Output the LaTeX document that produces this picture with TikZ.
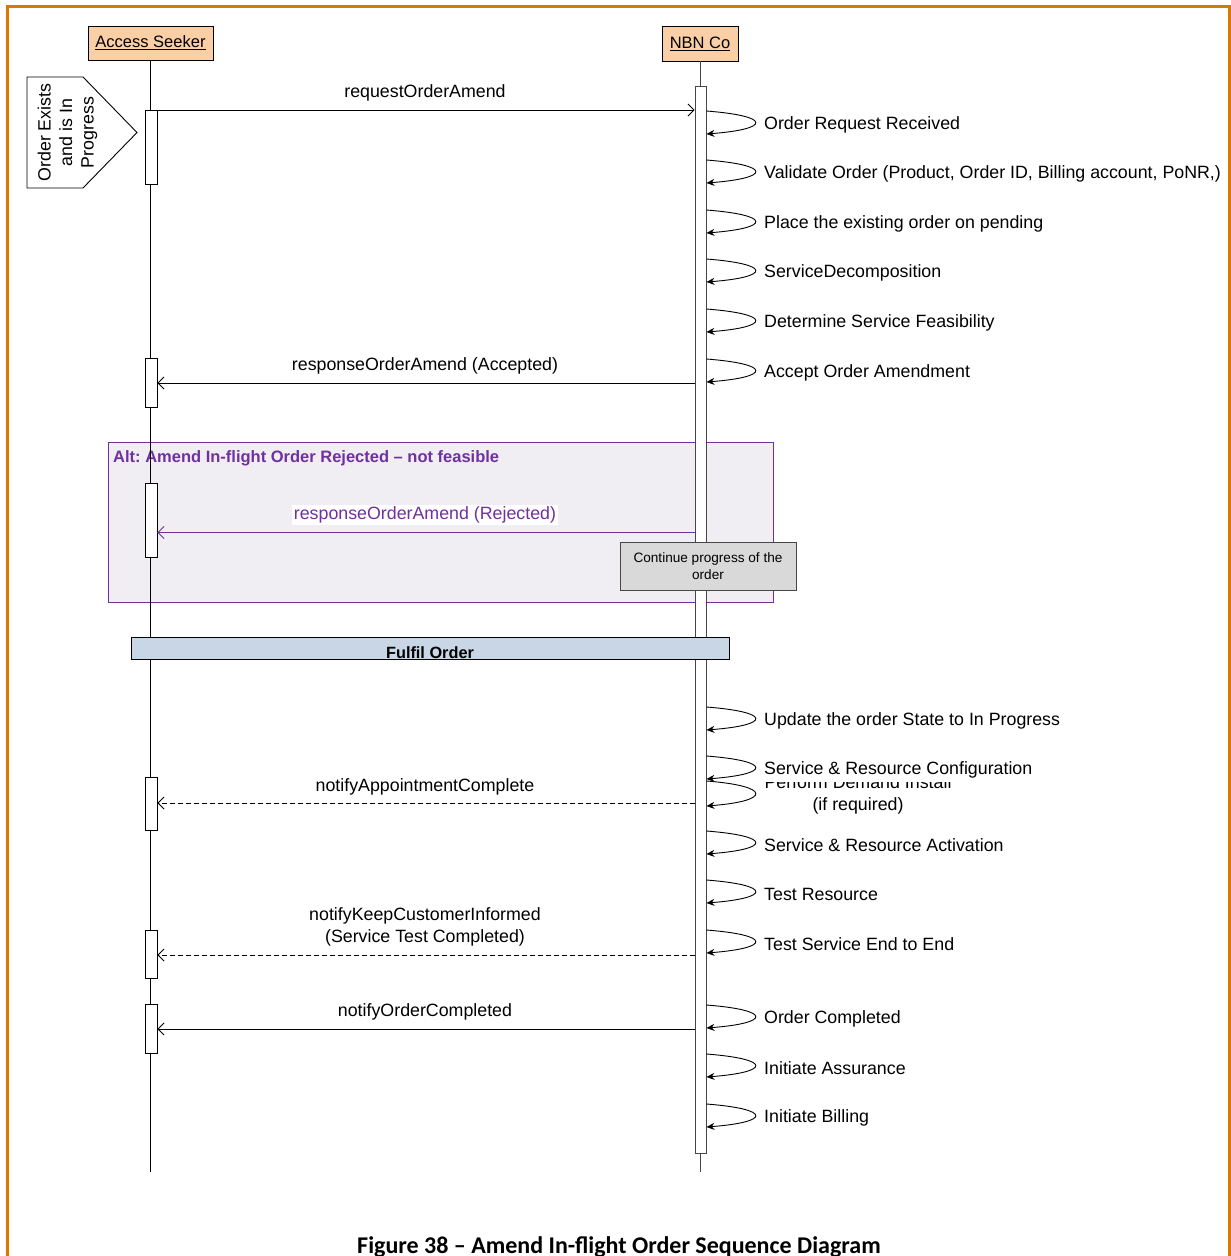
\documentclass[tikz,border=0pt]{standalone}
\usepackage{fontspec}
\setmainfont{Liberation Sans}
\newfontfamily\titlefont{Carlito}
\usetikzlibrary{arrows.meta}
\definecolor{frameorange}{RGB}{218,120,0}
\definecolor{partfill}{RGB}{251,207,166}
\definecolor{altfill}{RGB}{240,237,243}
\definecolor{altpurple}{RGB}{112,48,160}
\definecolor{notefill}{RGB}{217,217,217}
\definecolor{barfill}{RGB}{201,214,229}
\definecolor{lifegray}{RGB}{70,70,70}
\tikzset{
  lbl/.style={font=\fontsize{17.8}{21.5}\selectfont, inner sep=0pt},
  part/.style={draw=black, fill=partfill, line width=0.9pt, font=\fontsize{16.5}{19}\selectfont, inner sep=0pt},
  life/.style={line width=0.9pt},
  actbox/.style={draw=black, fill=white, line width=0.9pt, minimum width=12pt, inner sep=0pt, anchor=north},
  msg/.style={line width=0.9pt, -{Straight Barb[length=6pt,width=12pt,line width=0.9pt]}},
  dmsg/.style={msg, dash pattern=on 5pt off 3pt},
  selfarr/.style={line width=0.9pt, -{Stealth[length=8pt,width=7pt]}},
}
\frenchspacing
\begin{document}
\frenchspacing
\begin{tikzpicture}[x=1pt,y=-1pt]
\useasboundingbox (0,0) rectangle (1231,1256);
% page frame
\draw[frameorange, line width=3pt] (7,1256) -- (7,6) -- (1229.5,6) -- (1229.5,1256);

% alt frame (background)
\node[draw=altpurple, fill=altfill, line width=0.9pt, anchor=north west, minimum width=665pt, minimum height=160pt, inner sep=0pt] (alt) at (108,442) {};
\node[anchor=west, inner sep=0pt, text=altpurple, font=\bfseries\fontsize{16.5}{19}\selectfont] (alttitle) at (113,458.5) {Alt: Amend In-flight Order Rejected – not feasible};

% participants
\node[part, minimum width=125pt, minimum height=34pt] (as) at (150.5,43) {\underline{Access Seeker}};
\node[part, minimum width=76pt, minimum height=35pt] (nbn) at (700,43.5) {\underline{NBN Co}};

% lifelines
\coordinate (asend) at (as.south |- 0,1172);
\coordinate (nbnend) at (nbn.south |- 0,1172);
\draw[life] (as.south) -- (asend);
\draw[life, lifegray] (nbn.south) -- (nbnend);

% activations
\node[actbox, draw=lifegray, minimum width=11pt, minimum height=1067pt] (nbnact) at (700.5,86) {};
\node[actbox, minimum height=74pt] (a1) at (151,110) {};
\node[actbox, minimum height=49pt] (a2) at (151,358) {};
\node[actbox, minimum height=74pt] (a3) at (151,483) {};
\node[actbox, minimum height=53pt] (a4) at (151,777) {};
\node[actbox, minimum height=48pt] (a5) at (151,930) {};
\node[actbox, minimum height=49pt] (a6) at (151,1004) {};

% pentagon note
\draw[line width=0.9pt, fill=white] (27,77) -- (83,77) -- (137,132.5) -- (83,188) -- (27,188) -- cycle;
\node[lbl, rotate=90, align=center] (pre) at (67.5,132.5) {Order Exists\\and is In\\Progress};

% self messages
\foreach \y/\t in {111/Order Request Received,
                   160/{Validate Order (Product, Order ID, Billing account, PoNR,)},
                   210/Place the existing order on pending,
                   259/ServiceDecomposition,
                   309/Determine Service Feasibility,
                   359/Accept Order Amendment,
                   707/Update the order State to In Progress,
                   831/Service \& Resource Activation,
                   880/Test Resource,
                   930/Test Service End to End,
                   1005/Order Completed,
                   1054/Initiate Assurance,
                   1104/Initiate Billing}{
  \draw[selfarr] (nbnact.east |- 0,\y) .. controls +(65,5) and +(65,-5) .. (nbnact.east |- 0,\y+23);
  \node[lbl, anchor=west] (self\y) at (764,\y+14) {\t};
}
% Perform Demand Install (partly hidden)
\draw[selfarr] (nbnact.east |- 0,781) .. controls +(65,5) and +(65,-5) .. (nbnact.east |- 0,806);
\node[lbl, anchor=base] (perf1) at (858,788.5) {Perform Demand Install};
\node[lbl, anchor=base] (perf2) at (858,810) {(if required)};
% Service & Resource Configuration (white background over the line below)
\draw[selfarr] (nbnact.east |- 0,756) .. controls +(65,5) and +(65,-5) .. (nbnact.east |- 0,779);
\node[lbl, anchor=base west, fill=white, text depth=7pt] (self756) at (764,774.5) {Service \& Resource Configuration};

% note
\node[draw=lifegray, fill=notefill, line width=0.9pt, minimum width=176pt, minimum height=48pt, inner sep=0pt, align=center, font=\fontsize{13.6}{17}\selectfont] (cont) at (708,566) {Continue progress of the\\order};

% Fulfil bar
\node[draw=black, fill=barfill, line width=0.9pt, minimum width=598pt, minimum height=22pt, inner sep=0pt, font=\bfseries\fontsize{16.3}{19}\selectfont, text height=20pt, text depth=0pt] (fulfil) at (430,648) {Fulfil Order};

% messages
\draw[msg] (a1.north east) -- (nbnact.west |- a1.north east);
\node[lbl] (l1) at (425,93) {requestOrderAmend};

\draw[msg] (nbnact.west |- 0,383) -- (a2.east |- 0,383);
\node[lbl] (l2) at (425,366) {responseOrderAmend (Accepted)};

\draw[msg, altpurple] (nbnact.west |- 0,532.5) -- (a3.east |- 0,532.5);
\node[lbl, text=altpurple, fill=white, inner sep=1.5pt] (l3) at (425,515) {responseOrderAmend (Rejected)};

\draw[dmsg] (nbnact.west |- 0,803) -- (a4.east |- 0,803);
\node[lbl] (l4) at (425,787) {notifyAppointmentComplete};

\draw[dmsg] (nbnact.west |- 0,955) -- (a5.east |- 0,955);
\node[lbl, align=center] (l5) at (425,927) {notifyKeepCustomerInformed\\(Service Test Completed)};

\draw[msg] (nbnact.west |- 0,1029) -- (a6.east |- 0,1029);
\node[lbl] (l6) at (425,1012) {notifyOrderCompleted};

% caption
\node[anchor=base, inner sep=0pt, font=\titlefont\bfseries\fontsize{24}{28}\selectfont] (title) at (619,1253.5) {Figure 38 – Amend In-flight Order Sequence Diagram};
\end{tikzpicture}
\end{document}
